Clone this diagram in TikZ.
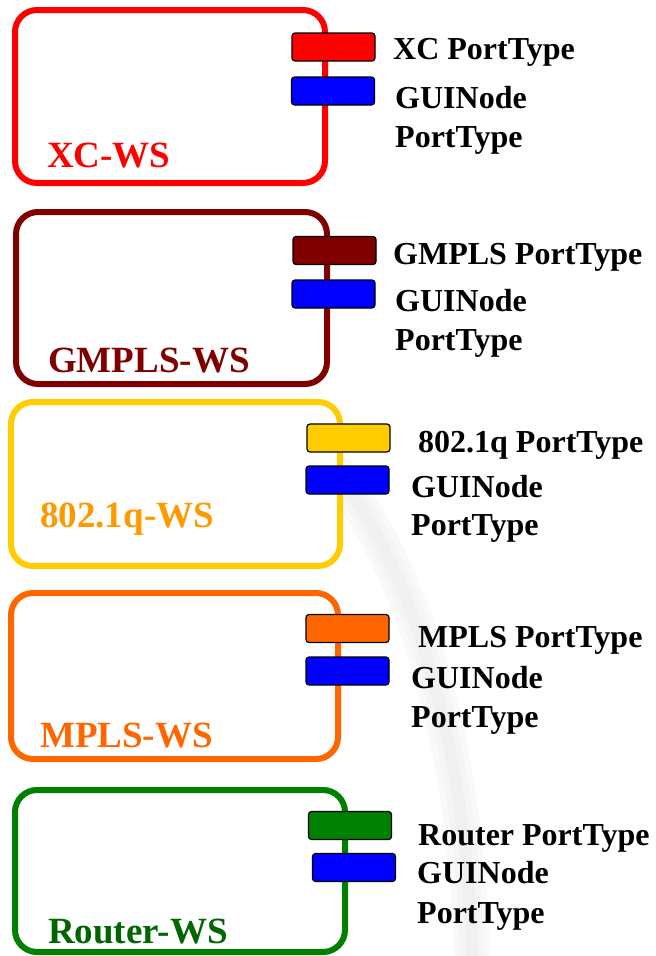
\documentclass[tikz,border=0pt]{standalone}
\usepackage{fontspec}
\setmainfont{Liberation Serif}

\definecolor{xcred}{HTML}{FF0000}
\definecolor{gmplsred}{HTML}{800000}
\definecolor{qgold}{HTML}{FFCC00}
\definecolor{qorange}{HTML}{FF9900}
\definecolor{mplsorange}{HTML}{FF6600}
\definecolor{routergreen}{HTML}{008000}
\definecolor{routertext}{HTML}{006600}
\definecolor{guiblue}{HTML}{0000FF}

\begin{document}
\begin{tikzpicture}[x=1pt, y=-1pt,
  wsbox/.style={line width=6pt, rounded corners=22pt, fill=white},
  port/.style={draw=black, line width=1.2pt, rounded corners=3pt,
    minimum width=83pt, minimum height=28pt, inner sep=0pt},
  ptlabel/.style={anchor=base west, inner sep=0pt,
    font=\fontsize{32}{38}\selectfont\bfseries},
  wslabel/.style={anchor=base west, inner sep=0pt,
    font=\fontsize{37}{44}\selectfont\bfseries}]
  \useasboundingbox (0,0) rectangle (656,956);
  \foreach \w/\g in {36/5, 24/8, 12/12}
    \draw[gray!\g, line width=\w pt] (335,470) .. controls (420,580) and (468,760) .. (472,962);

  \draw[wsbox, draw=xcred] (15,10) rectangle (325,183);
  \node[port, fill=xcred] (xcport) at (333.5,47) {};
  \node[port, fill=guiblue] (xcgui) at (333,91) {};
  \node[ptlabel] (xcname) at (393,59) {XC PortType};
  \node[ptlabel] (xcguia) at (395,108) {GUINode};
  \node[ptlabel] (xcguib) at (395,147) {PortType};
  \node[wslabel, text=xcred] (xcws) at (47,167) {XC-WS};

  \draw[wsbox, draw=gmplsred] (16,212) rectangle (327,384);
  \node[port, fill=gmplsred] (gmplsport) at (334.5,250.5) {};
  \node[port, fill=guiblue] (gmplsgui) at (333.5,294) {};
  \node[ptlabel] (gmplsname) at (393,264) {GMPLS PortType};
  \node[ptlabel] (gmplsguia) at (395,311) {GUINode};
  \node[ptlabel] (gmplsguib) at (395,350) {PortType};
  \node[wslabel, text=gmplsred] (gmplsws) at (48,372) {GMPLS-WS};

  \draw[wsbox, draw=qgold] (11,402) rectangle (340,566);
  \node[port, fill=qgold] (qport) at (348.5,438) {};
  \node[port, fill=guiblue] (qgui) at (347.5,480) {};
  \node[ptlabel] (qname) at (418,452) {802.1q PortType};
  \node[ptlabel] (qguia) at (411,497) {GUINode};
  \node[ptlabel] (qguib) at (411,535) {PortType};
  \node[wslabel, text=qorange] (qws) at (40,527) {802.1q-WS};

  \draw[wsbox, draw=mplsorange] (11,593) rectangle (338,759);
  \node[port, fill=mplsorange] (mplsport) at (347.5,628.5) {};
  \node[port, fill=guiblue] (mplsgui) at (347.5,671) {};
  \node[ptlabel] (mplsname) at (418,647) {MPLS PortType};
  \node[ptlabel] (mplsguia) at (411,688) {GUINode};
  \node[ptlabel] (mplsguib) at (411,727) {PortType};
  \node[wslabel, text=mplsorange] (mplsws) at (40,747) {MPLS-WS};

  \draw[wsbox, draw=routergreen] (15,790) rectangle (345,952);
  \node[port, fill=routergreen] (routerport) at (350,825.5) {};
  \node[port, fill=guiblue] (routergui) at (354,867.5) {};
  \node[ptlabel] (routername) at (418,845) {Router PortType};
  \node[ptlabel] (routerguia) at (417,883) {GUINode};
  \node[ptlabel] (routerguib) at (417,923) {PortType};
  \node[wslabel, text=routertext] (routerws) at (48,943) {Router-WS};
\end{tikzpicture}
\end{document}
